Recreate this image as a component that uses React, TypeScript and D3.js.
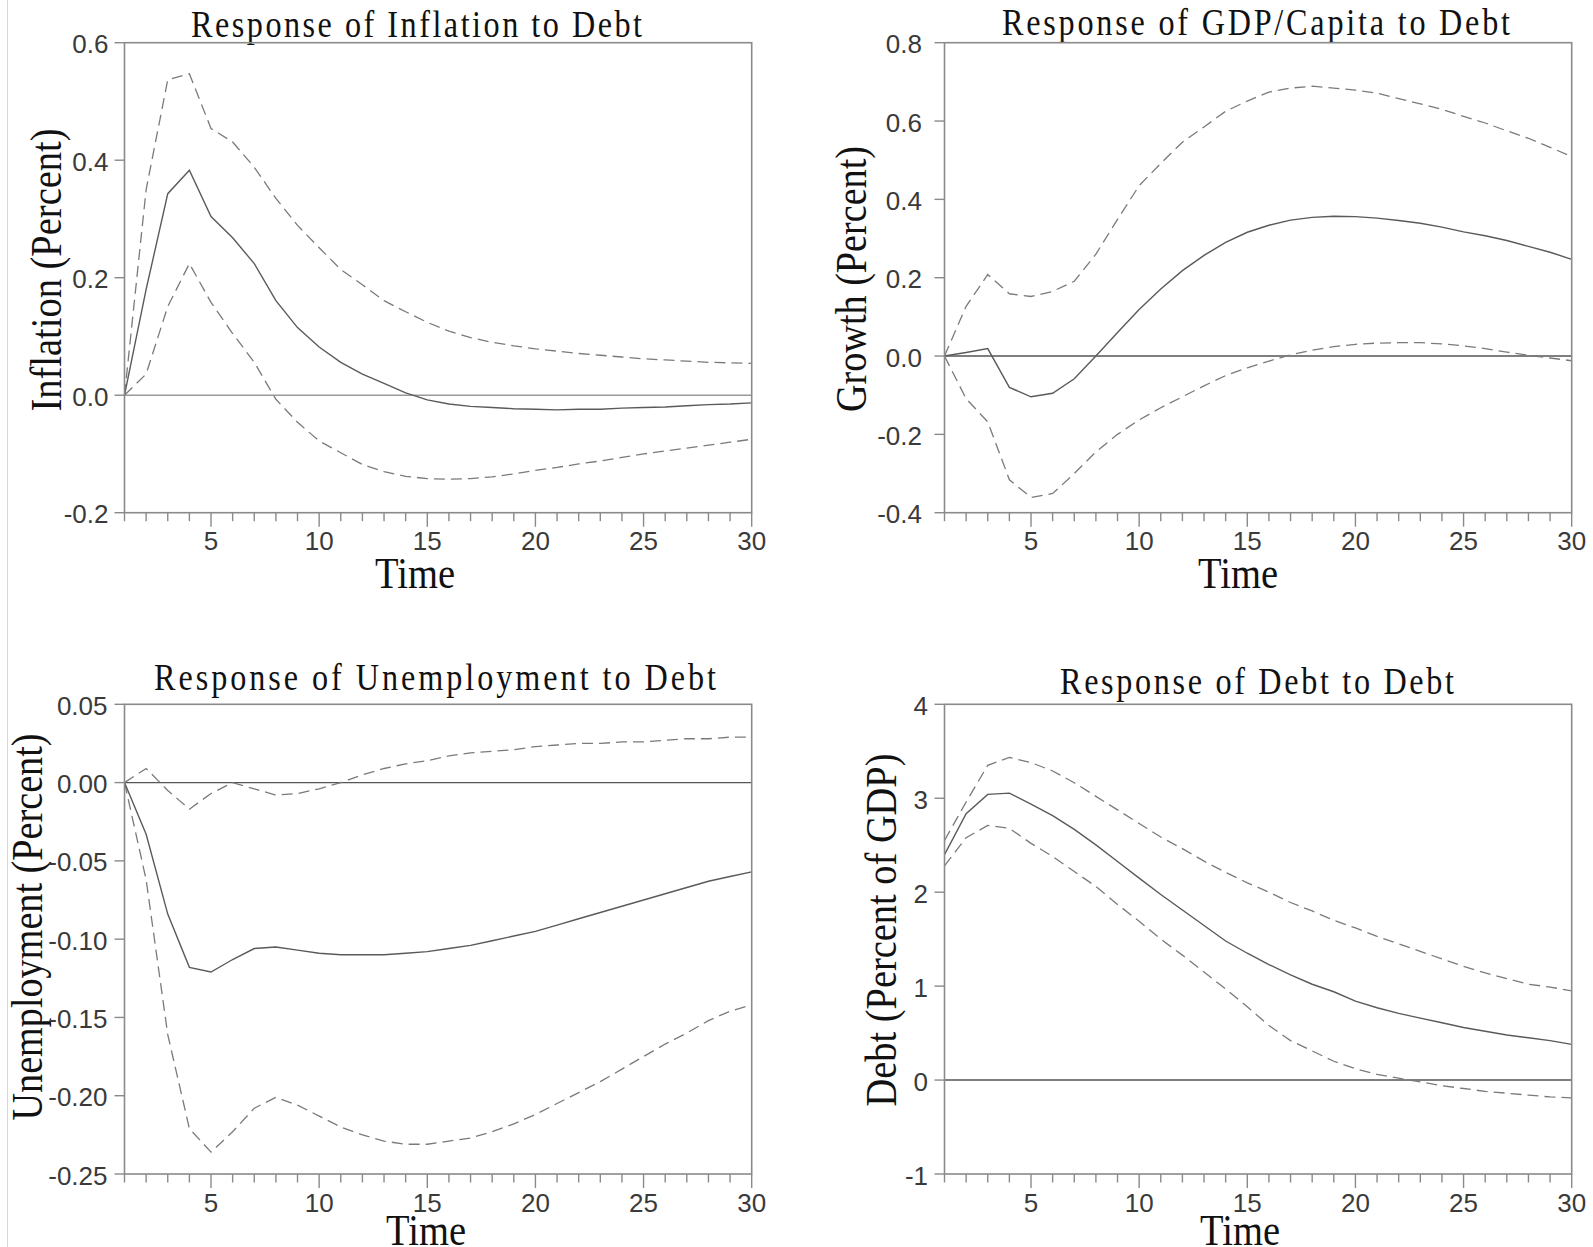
import React from "react";
import * as d3 from "d3";

// ---------------- data ----------------
const periods = [1, 2, 3, 4, 5, 6, 7, 8, 9, 10, 11, 12, 13, 14, 15, 16, 17, 18, 19, 20, 21, 22, 23, 24, 25, 26, 27, 28, 29, 30];
const xTickLabels = [5, 10, 15, 20, 25, 30];

const inflationMid = [0, 0.18, 0.343, 0.383, 0.304, 0.268, 0.224, 0.161, 0.115, 0.082, 0.056, 0.036, 0.02, 0.004, -0.008, -0.015, -0.019, -0.021, -0.023, -0.024, -0.025, -0.024, -0.024, -0.022, -0.021, -0.02, -0.018, -0.016, -0.015, -0.013];
const inflationUpper = [0, 0.35, 0.537, 0.547, 0.454, 0.431, 0.388, 0.335, 0.289, 0.251, 0.214, 0.188, 0.161, 0.142, 0.124, 0.109, 0.098, 0.09, 0.084, 0.079, 0.075, 0.071, 0.068, 0.065, 0.062, 0.06, 0.058, 0.056, 0.055, 0.054];
const inflationLower = [0, 0.036, 0.151, 0.224, 0.158, 0.105, 0.056, -0.007, -0.046, -0.078, -0.098, -0.118, -0.13, -0.138, -0.142, -0.143, -0.142, -0.139, -0.134, -0.128, -0.123, -0.117, -0.112, -0.106, -0.1, -0.095, -0.09, -0.085, -0.08, -0.075];
const inflationTicks = [-0.2, 0, 0.2, 0.4, 0.6];

const gdpMid = [0, 0.009, 0.019, -0.08, -0.104, -0.095, -0.058, 0, 0.06, 0.119, 0.171, 0.218, 0.257, 0.29, 0.316, 0.334, 0.347, 0.354, 0.357, 0.356, 0.352, 0.346, 0.339, 0.329, 0.317, 0.307, 0.295, 0.28, 0.265, 0.247];
const gdpUpper = [0, 0.127, 0.208, 0.159, 0.152, 0.165, 0.191, 0.26, 0.349, 0.435, 0.492, 0.546, 0.585, 0.625, 0.651, 0.674, 0.684, 0.689, 0.684, 0.679, 0.671, 0.657, 0.644, 0.63, 0.612, 0.595, 0.575, 0.556, 0.533, 0.509];
const gdpLower = [0, -0.109, -0.168, -0.316, -0.361, -0.351, -0.3, -0.245, -0.2, -0.163, -0.132, -0.104, -0.076, -0.05, -0.03, -0.013, 0.003, 0.015, 0.024, 0.03, 0.033, 0.034, 0.034, 0.031, 0.026, 0.019, 0.01, 0.002, -0.005, -0.012];
const gdpTicks = [-0.4, -0.2, 0, 0.2, 0.4, 0.6, 0.8];

const unempMid = [0, -0.033, -0.084, -0.118, -0.121, -0.113, -0.106, -0.105, -0.107, -0.109, -0.11, -0.11, -0.11, -0.109, -0.108, -0.106, -0.104, -0.101, -0.098, -0.095, -0.091, -0.087, -0.083, -0.079, -0.075, -0.071, -0.067, -0.063, -0.06, -0.057];
const unempUpper = [0, 0.009, -0.005, -0.017, -0.007, 0, -0.004, -0.008, -0.007, -0.004, 0, 0.005, 0.009, 0.012, 0.014, 0.017, 0.019, 0.02, 0.021, 0.023, 0.024, 0.025, 0.025, 0.026, 0.026, 0.027, 0.028, 0.028, 0.029, 0.029];
const unempLower = [0, -0.062, -0.161, -0.221, -0.236, -0.223, -0.208, -0.201, -0.206, -0.213, -0.22, -0.225, -0.229, -0.231, -0.231, -0.229, -0.227, -0.223, -0.218, -0.212, -0.205, -0.198, -0.191, -0.183, -0.175, -0.167, -0.16, -0.152, -0.146, -0.142];
const unempTicks = [-0.25, -0.2, -0.15, -0.1, -0.05, 0, 0.05];

const debtMid = [2.4, 2.835, 3.041, 3.054, 2.938, 2.814, 2.669, 2.504, 2.326, 2.15, 1.975, 1.81, 1.645, 1.48, 1.35, 1.23, 1.12, 1.02, 0.94, 0.84, 0.77, 0.71, 0.66, 0.61, 0.56, 0.52, 0.48, 0.45, 0.42, 0.38];
const debtUpper = [2.55, 2.96, 3.351, 3.434, 3.38, 3.29, 3.165, 3.02, 2.876, 2.731, 2.587, 2.463, 2.33, 2.21, 2.1, 2.0, 1.89, 1.8, 1.7, 1.62, 1.53, 1.45, 1.37, 1.29, 1.21, 1.14, 1.08, 1.02, 0.99, 0.95];
const debtLower = [2.28, 2.58, 2.71, 2.68, 2.52, 2.38, 2.22, 2.06, 1.87, 1.69, 1.5, 1.33, 1.15, 0.97, 0.78, 0.58, 0.42, 0.31, 0.2, 0.12, 0.06, 0.02, -0.02, -0.06, -0.09, -0.12, -0.14, -0.16, -0.18, -0.19];
const debtTicks = [-1, 0, 1, 2, 3, 4];

// ---------------- layout ----------------
const W = 1593;
const H = 1247;
const LEFT_COL = { l: 124.5, r: 751.7 };
const RIGHT_COL = { l: 944.5, r: 1571.7 };
const TOP_ROW = { t: 42.7, b: 512.7 };
const BOT_ROW = { t: 704.3, b: 1174 };

const panels = [
  {
    title: "Response of Inflation to Debt", yLabel: "Inflation (Percent)",
    mid: inflationMid, upper: inflationUpper, lower: inflationLower,
    domain: [-0.2, 0.6], ticks: inflationTicks, dec: 1,
    col: LEFT_COL, row: TOP_ROW,
    titleX: 191, titleW: 451, titleY: 36.5,
    yLabX: 61, yLabCY: 270, yLabLen: 283,
    timeCX: 415, timeY: 588, tickGap: 16, zeroColor: "#9a9a9a",
  },
  {
    title: "Response of GDP/Capita to Debt", yLabel: "Growth (Percent)",
    mid: gdpMid, upper: gdpUpper, lower: gdpLower,
    domain: [-0.4, 0.8], ticks: gdpTicks, dec: 1,
    col: RIGHT_COL, row: TOP_ROW,
    titleX: 1002, titleW: 508, titleY: 35,
    yLabX: 866, yLabCY: 279, yLabLen: 266,
    timeCX: 1238, timeY: 588, tickGap: 22.5, zeroColor: "#555",
  },
  {
    title: "Response of Unemployment to Debt", yLabel: "Unemployment (Percent)",
    mid: unempMid, upper: unempUpper, lower: unempLower,
    domain: [-0.25, 0.05], ticks: unempTicks, dec: 2,
    col: LEFT_COL, row: BOT_ROW,
    titleX: 154, titleW: 562, titleY: 689.5,
    yLabX: 42, yLabCY: 927, yLabLen: 387,
    timeCX: 426, timeY: 1245, tickGap: 17, zeroColor: "#555",
  },
  {
    title: "Response of Debt to Debt", yLabel: "Debt (Percent of GDP)",
    mid: debtMid, upper: debtUpper, lower: debtLower,
    domain: [-1, 4], ticks: debtTicks, dec: 0,
    col: RIGHT_COL, row: BOT_ROW,
    titleX: 1060, titleW: 394, titleY: 694,
    yLabX: 896, yLabCY: 930, yLabLen: 353,
    timeCX: 1240, timeY: 1245, tickGap: 16.5, zeroColor: "#555",
  },
];

const SERIF = "'Liberation Serif', 'Times New Roman', serif";
const SANS = "'Liberation Sans', Arial, sans-serif";
const TITLE_SQUEEZE = 0.87;

function Panel({ p }: { p: any }) {
  const { l, r } = p.col;
  const { t, b } = p.row;
  const x = d3.scaleLinear().domain([1, 30]).range([l, r]);
  const y = d3.scaleLinear().domain(p.domain).range([b, t]);
  const line = (vals: number[]) =>
    d3.line<number>().x((_, i) => x(periods[i])).y((v) => y(v))(vals) || "";

  return (
    <g>
      {/* title: condensed glyphs with wide tracking */}
      <g transform={`translate(${p.titleX},${p.titleY}) scale(${TITLE_SQUEEZE},1)`}>
        <text x={0} y={0} fontFamily={SERIF} fontSize={37} fill="#111"
          textLength={p.titleW / TITLE_SQUEEZE} lengthAdjust="spacing">{p.title}</text>
      </g>
      {/* y axis label */}
      <text transform={`translate(${p.yLabX},${p.yLabCY}) rotate(-90)`} x={-p.yLabLen / 2} y={0}
        fontFamily={SERIF} fontSize={44} fill="#111" textLength={p.yLabLen}
        lengthAdjust="spacingAndGlyphs">{p.yLabel}</text>
      {/* x axis label */}
      <text x={p.timeCX - 40} y={p.timeY} fontFamily={SERIF} fontSize={44} fill="#111"
        textLength={80} lengthAdjust="spacingAndGlyphs">Time</text>

      {/* zero line */}
      <line x1={l} x2={r} y1={y(0)} y2={y(0)} stroke={p.zeroColor} strokeWidth={1.4} />

      {/* series */}
      <path d={line(p.upper)} fill="none" stroke="#7a7a7a" strokeWidth={1.3} strokeDasharray="11,6" />
      <path d={line(p.lower)} fill="none" stroke="#7a7a7a" strokeWidth={1.3} strokeDasharray="11,6" />
      <path d={line(p.mid)} fill="none" stroke="#5a5a5a" strokeWidth={1.4} />

      {/* frame */}
      <rect x={l} y={t} width={r - l} height={b - t} fill="none" stroke="#8a8a8a" strokeWidth={1.6} />

      {/* y ticks */}
      {p.ticks.map((v: number) => (
        <g key={"y" + v}>
          <line x1={l - 10} x2={l} y1={y(v)} y2={y(v)} stroke="#8a8a8a" strokeWidth={1.4} />
          <text x={l - p.tickGap} y={y(v) + 10.5} textAnchor="end" fontFamily={SANS}
            fontSize={26} fill="#3a3a3a">{v.toFixed(p.dec)}</text>
        </g>
      ))}

      {/* x ticks */}
      {periods.map((v) => {
        const major = v % 5 === 0;
        return (
          <line key={"x" + v} x1={x(v)} x2={x(v)} y1={b} y2={b + (major ? 14 : 8.5)}
            stroke="#8a8a8a" strokeWidth={1.4} />
        );
      })}
      {xTickLabels.map((v) => (
        <text key={"xl" + v} x={x(v)} y={b + 37.5} textAnchor="middle" fontFamily={SANS}
          fontSize={26} fill="#3a3a3a">{v}</text>
      ))}
    </g>
  );
}

export default function App() {
  return (
    <svg width={W} height={H} viewBox={`0 0 ${W} ${H}`}
      style={{ position: "absolute", left: 0, top: 0, background: "#fff" }}>
      <rect x={0} y={0} width={W} height={H} fill="#fff" />
      <line x1={7.5} x2={7.5} y1={0} y2={H} stroke="#d8d8d8" strokeWidth={1} />
      {panels.map((p, i) => (
        <Panel key={i} p={p} />
      ))}
    </svg>
  );
}
